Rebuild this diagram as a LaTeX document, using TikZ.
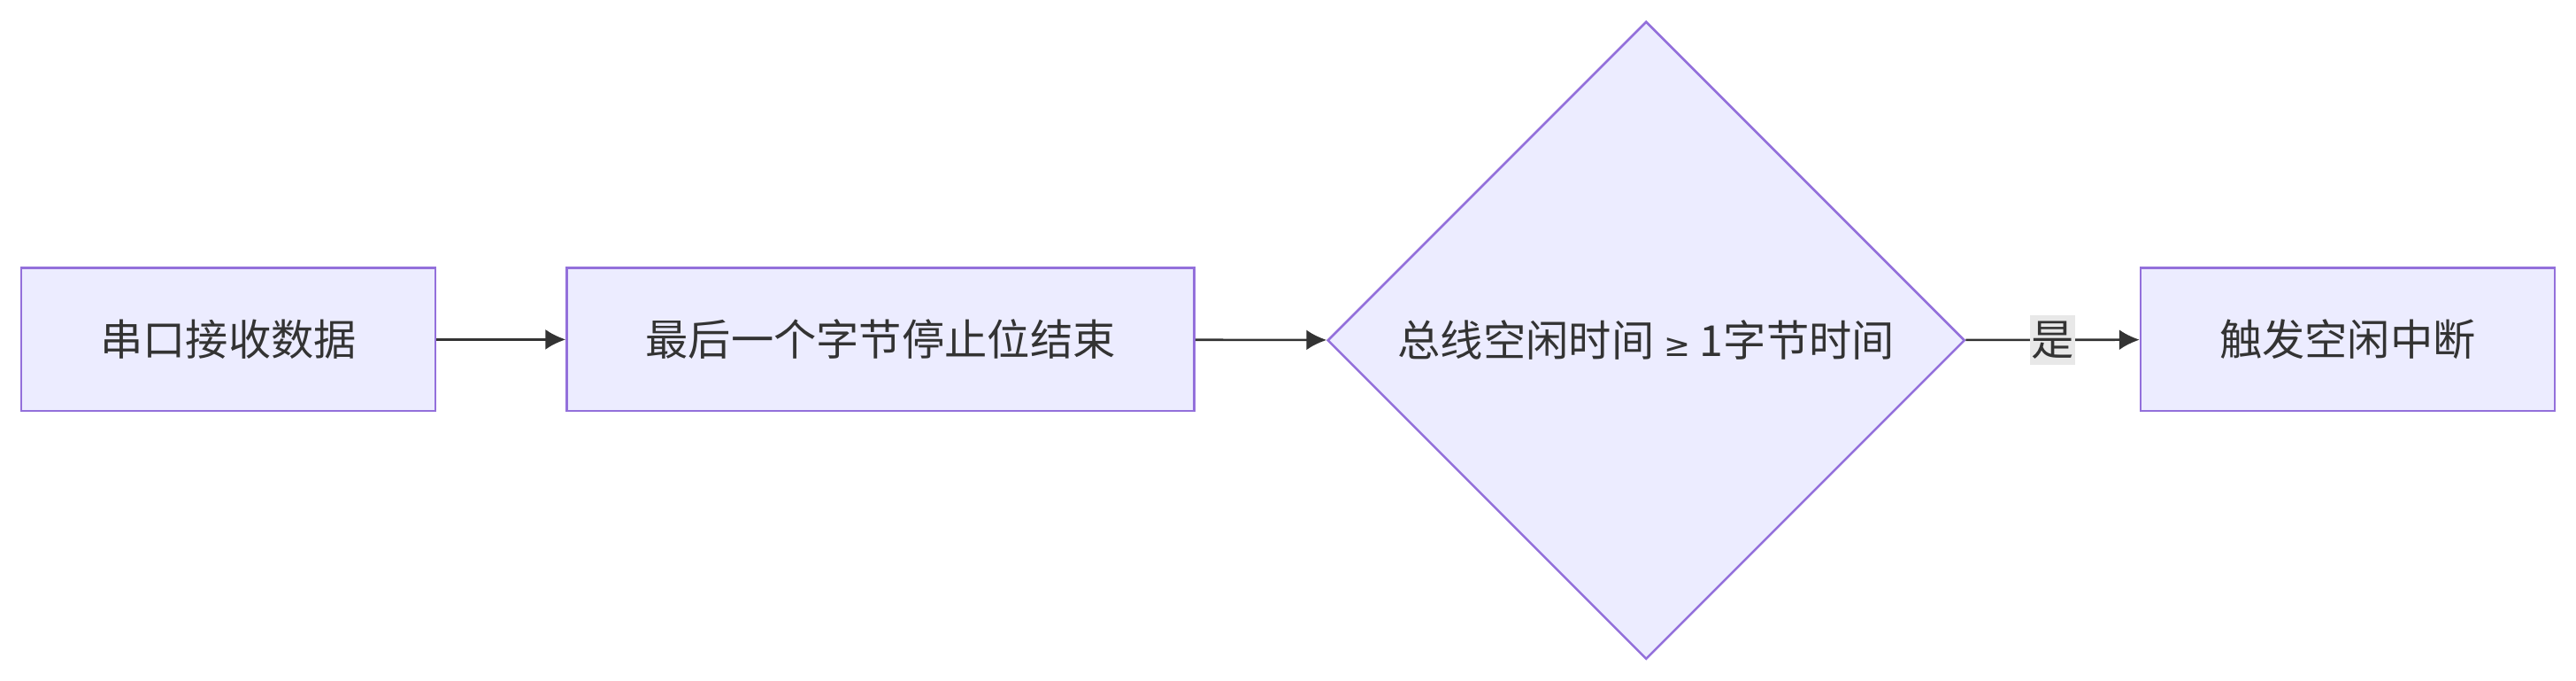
\documentclass[tikz,border=0pt]{standalone}
\usepackage{fontspec}
\setmainfont{Noto Sans CJK SC}
\newfontfamily\symfont{DejaVu Sans}
\usetikzlibrary{shapes.geometric,arrows.meta}
\definecolor{boxfill}{HTML}{ECECFF}
\definecolor{boxline}{HTML}{9370DB}
\definecolor{ink}{HTML}{333333}
\definecolor{labelbg}{HTML}{E8E8E8}
\tikzset{
  stepbox/.style={draw=boxline,fill=boxfill,line width=0.8pt,minimum height=1.74cm,text=ink,font=\fontsize{14.8}{17}\selectfont},
  decision/.style={diamond,draw=boxline,fill=boxfill,line width=0.8pt,minimum width=7.76cm,minimum height=7.76cm,inner sep=0pt,aspect=1,text=ink,font=\fontsize{14.8}{17}\selectfont},
  flow/.style={draw=ink,line width=0.8pt,-{Latex[length=7pt,width=7pt]}}
}
\begin{document}
\begin{tikzpicture}[x=0.02cm,y=-0.02cm]
\useasboundingbox (0,0) rectangle (1568,414);
\node[stepbox,minimum width=5.04cm] (rx) at (139,206.5) {串口接收数据};
\node[stepbox,minimum width=7.64cm] (stop) at (536,206.5) {最后一个字节停止位结束};
\node[decision] (idle) at (1002,207) {总线空闲时间 {\symfont\fontsize{11}{13}\selectfont ≥} 1字节时间};
\node[stepbox,minimum width=5.04cm] (irq) at (1429,206.5) {触发空闲中断};
\draw[flow] (rx) -- (stop);
\draw[flow] (stop) -- (idle);
\draw[flow] (idle) -- node[fill=labelbg,text=ink,inner xsep=0.5pt,inner ysep=2pt,font=\fontsize{14.8}{17}\selectfont] {是} (irq);
\end{tikzpicture}
\end{document}
